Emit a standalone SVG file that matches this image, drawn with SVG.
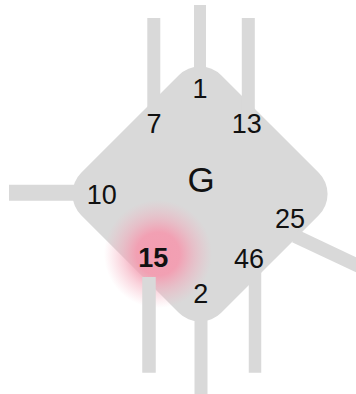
<svg xmlns="http://www.w3.org/2000/svg" width="356" height="394" viewBox="0 0 356 394">
  <defs>
    <radialGradient id="glow" cx="0.5" cy="0.5" r="0.5">
      <stop offset="0" stop-color="#f39db1" stop-opacity="1"/>
      <stop offset="0.4" stop-color="#f39db1" stop-opacity="0.95"/>
      <stop offset="0.65" stop-color="#f4a3b6" stop-opacity="0.5"/>
      <stop offset="1" stop-color="#f6b0c0" stop-opacity="0"/>
    </radialGradient>
  </defs>
  <style>
    .shape { fill: #d9d9d9; }
    .wire { stroke: #d9d9d9; fill: none; stroke-linecap: butt; }
    .lbl { font-family: "Liberation Sans", Arial, sans-serif; font-size: 27px; fill: #111; text-anchor: middle; }
    .big { font-size: 35px; }
    .bold { font-weight: bold; }
  </style>
  <rect width="356" height="394" fill="#ffffff"/>
  <g id="node-G">
    <rect class="shape" x="101" y="95" width="198" height="198" rx="30" ry="30" transform="rotate(45 200 194)"/>
  </g>
  <g id="highlight-15">
    <circle cx="158" cy="254" r="54" fill="url(#glow)"/>
  </g>
  <g id="connectors">
    <line class="wire" x1="200" y1="5" x2="200" y2="75" stroke-width="12"/>
    <line class="wire" x1="153.8" y1="18" x2="153.8" y2="110" stroke-width="13"/>
    <line class="wire" x1="248.3" y1="18" x2="248.3" y2="110" stroke-width="13"/>
    <line class="wire" x1="9" y1="192.8" x2="82" y2="192.8" stroke-width="16"/>
    <line class="wire" x1="295" y1="236" x2="380" y2="276" stroke-width="13.6"/>
    <line class="wire" x1="149" y1="277" x2="149" y2="372.7" stroke-width="13.5"/>
    <line class="wire" x1="201" y1="316" x2="201" y2="400" stroke-width="13"/>
    <line class="wire" x1="255" y1="272" x2="255" y2="372.7" stroke-width="12.5"/>
  </g>
  <g id="labels">
    <text class="lbl big" x="201" y="191.7">G</text>
    <text class="lbl" x="200" y="98">1</text>
    <text class="lbl" x="154" y="132.7">7</text>
    <text class="lbl" x="246.7" y="132.7">13</text>
    <text class="lbl" x="101.7" y="204">10</text>
    <text class="lbl" x="290" y="228">25</text>
    <text class="lbl bold" x="153.3" y="266.7">15</text>
    <text class="lbl" x="249" y="268">46</text>
    <text class="lbl" x="200.8" y="303">2</text>
  </g>
</svg>
